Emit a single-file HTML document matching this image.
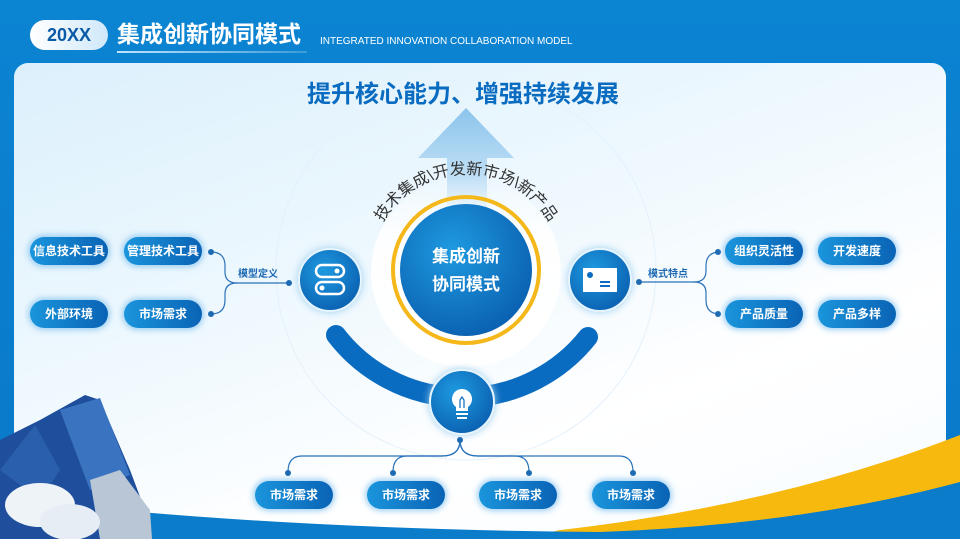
<!DOCTYPE html>
<html><head><meta charset="utf-8"><style>
html,body{margin:0;width:960px;height:539px;overflow:hidden;background:#0a80cf;font-family:"Liberation Sans","Noto Sans CJK SC",sans-serif}
.abs{position:absolute}
.pill{position:absolute;width:78px;height:28px;border-radius:14px;background:linear-gradient(90deg,#1a95dc,#0a63b5);color:#fff;font-size:12px;font-weight:bold;text-align:center;line-height:28px;box-shadow:0 0 6px 2px rgba(120,190,240,.7)}
</style></head><body>
<div class="abs" style="left:0;top:0;width:960px;height:539px;background:linear-gradient(180deg,#0b84d2,#0a78c8)"></div>
<div class="abs" style="left:30px;top:20px;width:78px;height:30px;border-radius:15px;background:linear-gradient(90deg,#ffffff,#cfe8fa);color:#0a5aa8;font-weight:bold;font-size:18px;line-height:30px;text-align:center">20XX</div>
<div class="abs" style="left:117px;top:19px;color:#fff;font-weight:bold;font-size:23px;line-height:30px">集成创新协同模式</div>
<div class="abs" style="left:117px;top:51px;width:190px;height:2px;background:linear-gradient(90deg,#bfe3ff,rgba(255,255,255,.2))"></div>
<div class="abs" style="left:320px;top:36px;color:#fff;font-size:10px">INTEGRATED INNOVATION COLLABORATION MODEL</div>
<div class="abs" style="left:14px;top:63px;width:932px;height:476px;border-radius:14px 14px 0 0;background:linear-gradient(160deg,#dcf0fc 0%,#eef8fe 40%,#ffffff 70%,#f6fbff 100%)"></div>
<svg class="abs" style="left:0;top:0" width="960" height="539">
<defs>
<radialGradient id="bc" cx="40%" cy="35%" r="70%"><stop offset="0" stop-color="#1e9ae0"/><stop offset="1" stop-color="#0a5fb0"/></radialGradient>
<linearGradient id="ar" x1="0" y1="0" x2="0" y2="1"><stop offset="0" stop-color="#8cc4ec"/><stop offset="1" stop-color="#d8ecfa"/></linearGradient>
<linearGradient id="wc" x1="0" y1="0" x2="0" y2="1"><stop offset="0" stop-color="#fff" stop-opacity="0"/><stop offset="0.3" stop-color="#fff" stop-opacity="0.9"/><stop offset="1" stop-color="#fff"/></linearGradient>
<path id="tp" d="M383,222 A96,96 0 0 1 549,222"/>
</defs>
<path d="M560,530 Q780,505 960,435 L960,539 L520,539 Z" fill="#f8b90f"/>
<path d="M140,512 Q350,530 600,532 Q800,525 960,482 L960,539 L140,539 Z" fill="#0a7cc9"/>
<polygon points="0,440 40,420 85,395 100,400 130,470 145,510 150,539 0,539" fill="#1f4f9c"/>
<polygon points="60,410 100,398 130,475 90,490" fill="#3a74c0"/>
<polygon points="0,470 35,425 60,470 40,500" fill="#2a5fae"/>
<polygon points="90,480 120,470 150,510 152,539 100,539" fill="#b9c6d6"/>
<ellipse cx="40" cy="505" rx="35" ry="22" fill="#eef3f8"/>
<ellipse cx="70" cy="522" rx="30" ry="18" fill="#e6edf5"/>
<circle cx="466" cy="270" r="190" fill="none" stroke="#e4f1fb" stroke-width="1"/>
<polygon points="466,108 514,158 487,158 487,210 447,210 447,158 418,158" fill="url(#ar)"/>
<circle cx="466" cy="272" r="95" fill="url(#wc)"/>
<circle cx="466" cy="270" r="73" fill="none" stroke="#f5b81a" stroke-width="4"/>
<circle cx="466" cy="270" r="66" fill="url(#bc)"/>
<text x="466" y="262" text-anchor="middle" fill="#fff" font-size="17" font-weight="bold">集成创新</text>
<text x="466" y="290" text-anchor="middle" fill="#fff" font-size="17" font-weight="bold">协同模式</text>
<text font-size="16" fill="#333"><textPath href="#tp" startOffset="50%" text-anchor="middle">技术集成\开发新市场\新产品</textPath></text>
<path d="M336,335 A160,160 0 0 0 588,337" fill="none" stroke="#0a6cc0" stroke-width="20" stroke-linecap="round"/>
<g style="filter:drop-shadow(0 0 4px #9ccfef)">
<circle cx="330" cy="280" r="31" fill="url(#bc)" stroke="#e6f4fd" stroke-width="2"/>
<circle cx="600" cy="280" r="31" fill="url(#bc)" stroke="#e6f4fd" stroke-width="2"/>
<circle cx="462" cy="402" r="32" fill="url(#bc)" stroke="#e6f4fd" stroke-width="2"/>
</g>
<rect x="316" y="265" width="28" height="12" rx="6" fill="none" stroke="#fff" stroke-width="2.5"/>
<rect x="316" y="282" width="28" height="12" rx="6" fill="none" stroke="#fff" stroke-width="2.5"/>
<circle cx="337" cy="271" r="2.5" fill="#fff"/><circle cx="322" cy="288" r="2.5" fill="#fff"/>
<rect x="583" y="268" width="34" height="24" fill="#fff"/>
<circle cx="590" cy="275" r="3" fill="#0a6cc0"/>
<rect x="600" y="281" width="10" height="2" fill="#0a6cc0"/><rect x="600" y="285" width="10" height="2" fill="#0a6cc0"/>
<path d="M462,389 a10,10 0 0 0 -6,18 v4 h12 v-4 a10,10 0 0 0 -6,-18z" fill="#fff"/>
<rect x="456" y="413" width="12" height="2" fill="#fff"/><rect x="457" y="417" width="10" height="2" fill="#fff"/>
<path d="M460,408 v-8 l2,-3 2,3 v8" stroke="#0a6cc0" fill="none" stroke-width="1.2"/>
<g stroke="#2a72b8" stroke-width="1.2" fill="none">
<path d="M211,252 q14,0 14,14 v6 q0,11 12,11 h52"/>
<path d="M211,314 q14,0 14,-14 v-6 q0,-11 12,-11"/>
<path d="M639,282 h55 q12,0 12,-11 v-5 q0,-14 14,-14"/>
<path d="M694,282 q12,0 12,11 v7 q0,14 14,14"/>
<path d="M460,440 q0,16 -18,16 h-140 q-14,0 -14,16"/>
<path d="M460,440 q0,16 -18,16 h-35 q-14,0 -14,16"/>
<path d="M460,440 q0,16 18,16 h37 q14,0 14,16"/>
<path d="M460,440 q0,16 18,16 h141 q14,0 14,16"/>
</g>
<g fill="#1e6ab2">
<circle cx="211" cy="252" r="3"/><circle cx="211" cy="314" r="3"/><circle cx="289" cy="283" r="3"/>
<circle cx="639" cy="282" r="3"/><circle cx="718" cy="252" r="3"/><circle cx="718" cy="314" r="3"/>
<circle cx="460" cy="440" r="3"/><circle cx="288" cy="473" r="3"/><circle cx="393" cy="473" r="3"/><circle cx="529" cy="473" r="3"/><circle cx="633" cy="473" r="3"/>
</g>
<text x="238" y="277" font-size="10" font-weight="bold" fill="#1e6ab2">模型定义</text>
<text x="648" y="277" font-size="10" font-weight="bold" fill="#1e6ab2">模式特点</text>
<text x="463" y="102" text-anchor="middle" font-size="24" font-weight="bold" fill="#0a6cc0">提升核心能力、增强持续发展</text>
</svg>
<div class="pill" style="left:30px;top:237px">信息技术工具</div>
<div class="pill" style="left:124px;top:237px">管理技术工具</div>
<div class="pill" style="left:30px;top:300px">外部环境</div>
<div class="pill" style="left:124px;top:300px">市场需求</div>
<div class="pill" style="left:725px;top:237px">组织灵活性</div>
<div class="pill" style="left:818px;top:237px">开发速度</div>
<div class="pill" style="left:725px;top:300px">产品质量</div>
<div class="pill" style="left:818px;top:300px">产品多样</div>
<div class="pill" style="left:255px;top:481px">市场需求</div>
<div class="pill" style="left:367px;top:481px">市场需求</div>
<div class="pill" style="left:479px;top:481px">市场需求</div>
<div class="pill" style="left:592px;top:481px">市场需求</div>
</body></html>
